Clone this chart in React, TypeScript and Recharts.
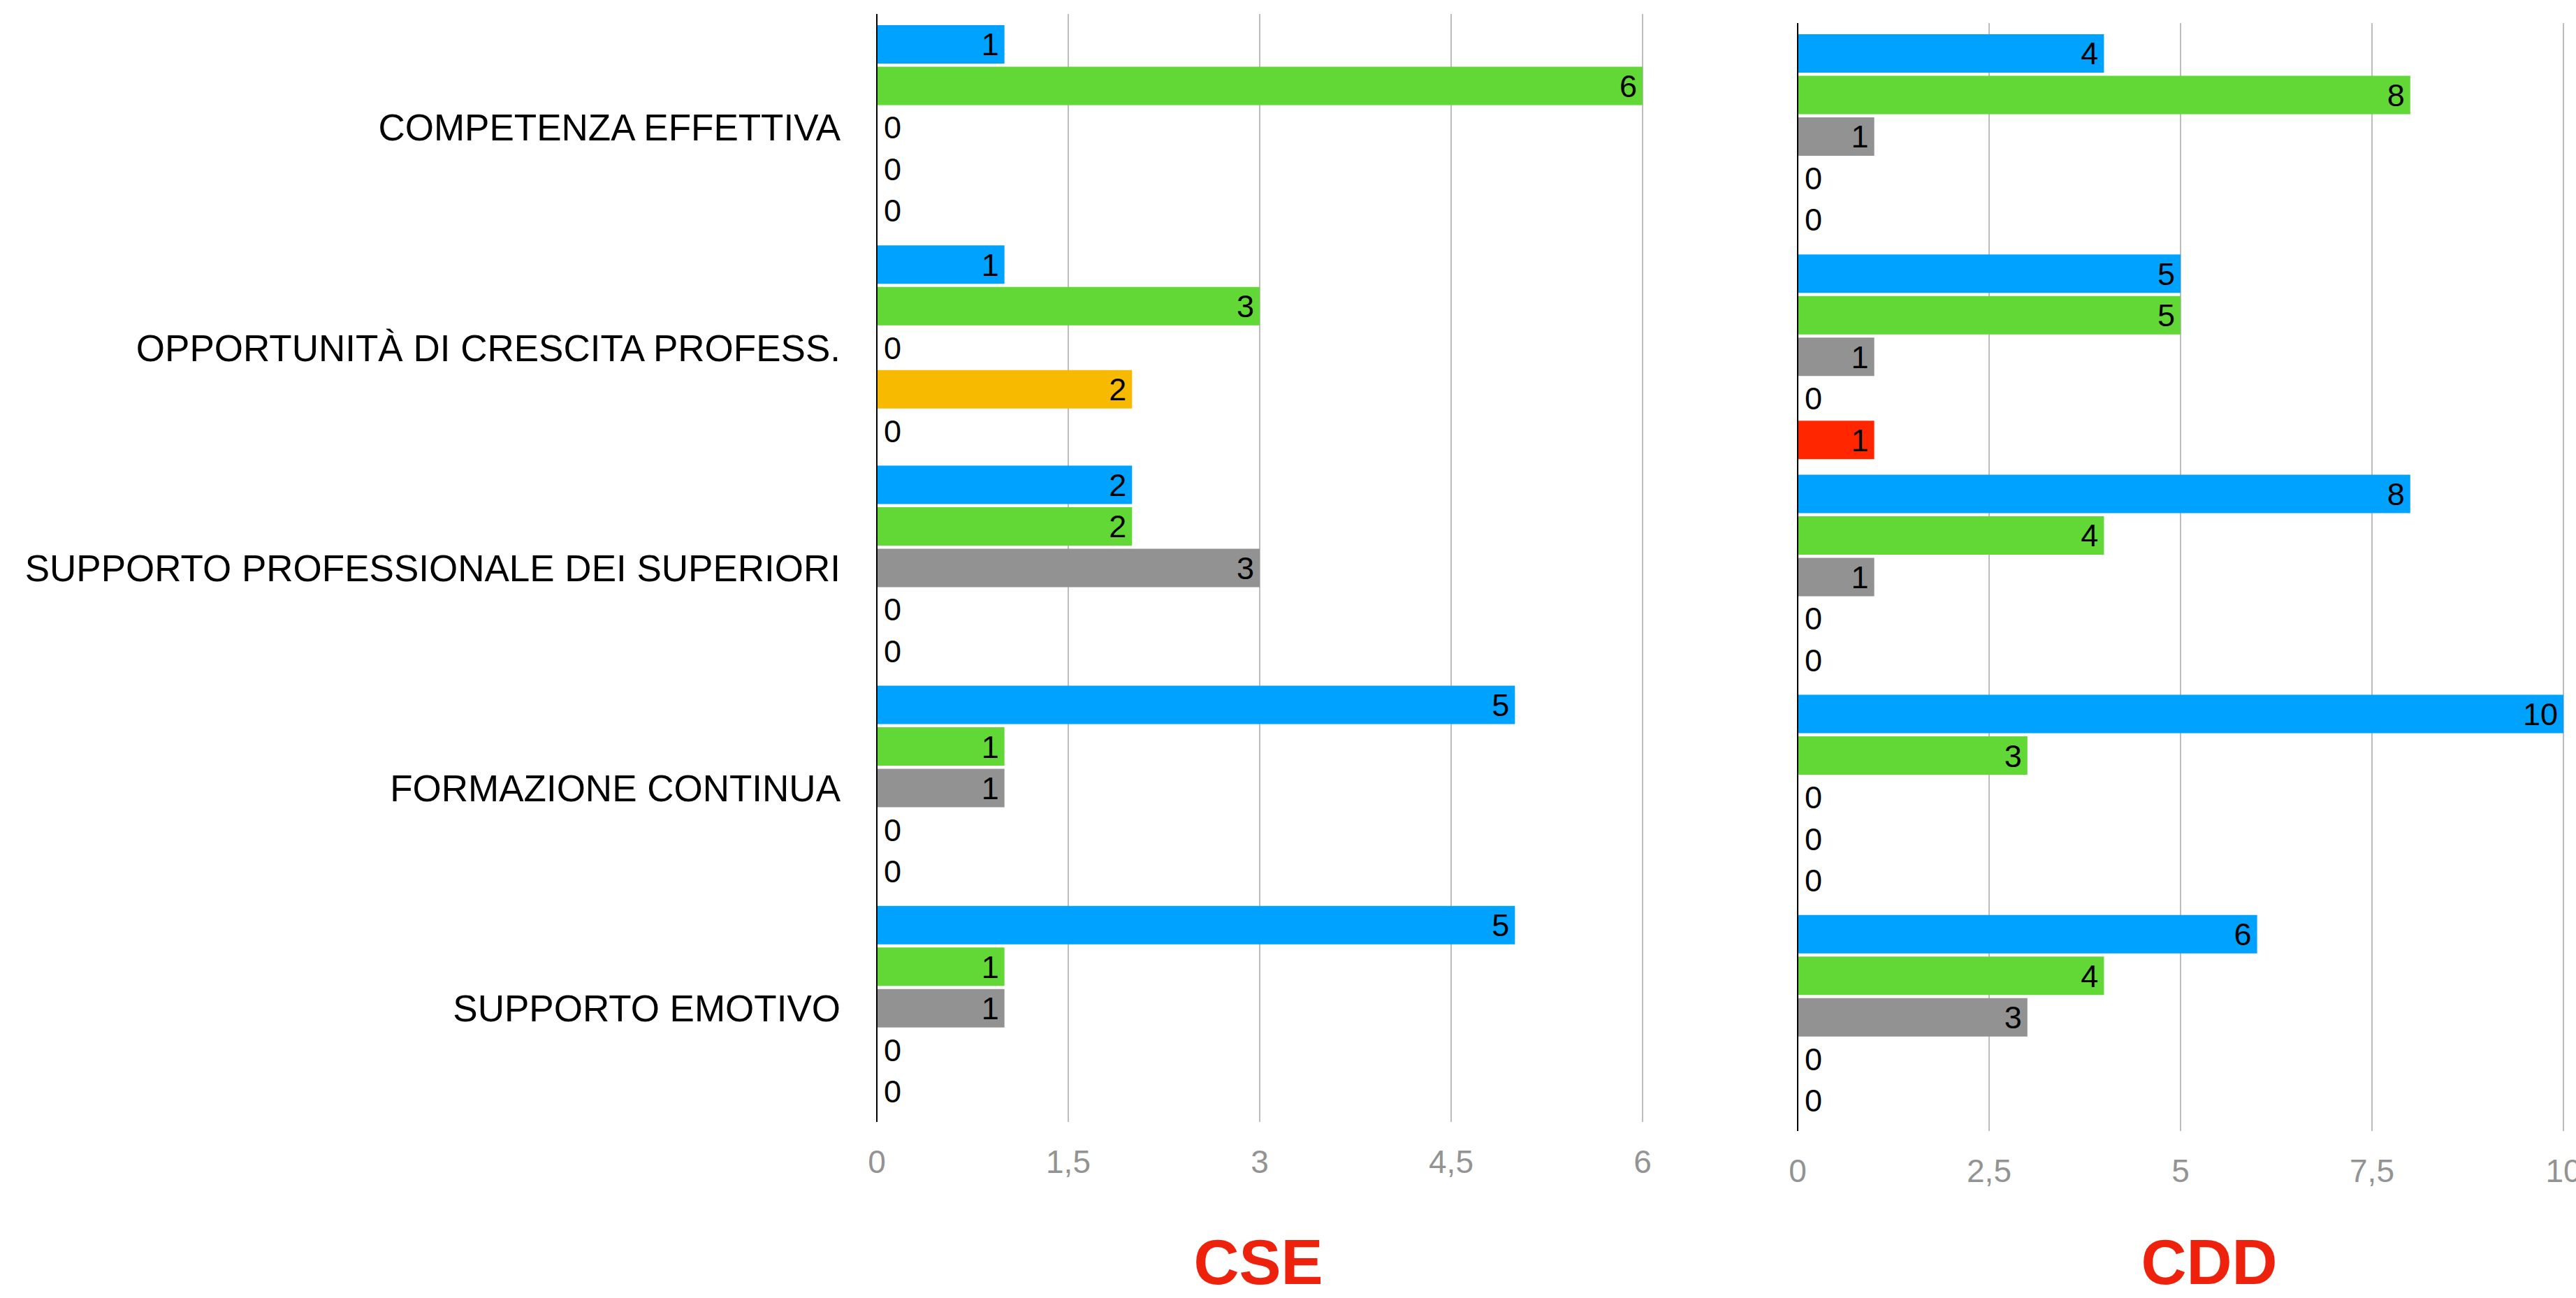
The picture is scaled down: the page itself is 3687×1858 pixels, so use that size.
import React from "react";
import { BarChart, Bar, XAxis, YAxis, CartesianGrid, LabelList } from "recharts";

const categories = [
  "COMPETENZA EFFETTIVA",
  "OPPORTUNITÀ DI CRESCITA PROFESS.",
  "SUPPORTO PROFESSIONALE DEI SUPERIORI",
  "FORMAZIONE CONTINUA",
  "SUPPORTO EMOTIVO",
];

// CSE
const cseBlue = [1, 1, 2, 5, 5];
const cseGreen = [6, 3, 2, 1, 1];
const cseGray = [0, 0, 3, 1, 1];
const cseYellow = [0, 2, 0, 0, 0];
const cseRed = [0, 0, 0, 0, 0];

// CDD
const cddBlue = [4, 5, 8, 10, 6];
const cddGreen = [8, 5, 4, 3, 4];
const cddGray = [1, 1, 1, 0, 3];
const cddYellow = [0, 0, 0, 0, 0];
const cddRed = [0, 1, 0, 0, 0];

const cseTicks = [0, 1.5, 3, 4.5, 6];
const cddTicks = [0, 2.5, 5, 7.5, 10];

const seriesKeys = ["blue", "green", "gray", "yellow", "red"];
const seriesColors = ["#00A2FF", "#61D836", "#929292", "#F8BA00", "#FF2600"];

const FONT = "'Liberation Sans', Arial, sans-serif";

const build = (cols: number[][]) =>
  categories.map((name, i) => {
    const row: any = { name };
    seriesKeys.forEach((k, j) => (row[k] = cols[j][i]));
    return row;
  });

const cseData = build([cseBlue, cseGreen, cseGray, cseYellow, cseRed]);
const cddData = build([cddBlue, cddGreen, cddGray, cddYellow, cddRed]);

const fmt = (v: number) => String(v).replace(".", ",");

// value at the bar end, or just right of the axis when it's 0
const ValueLabel = (props: any) => {
  const vb = props.viewBox && props.viewBox.width !== undefined ? props.viewBox : props;
  const { x, y, width, height } = vb;
  const value = props.value;
  const zero = !value;
  return (
    <text
      x={zero ? x + 10 : x + width - 8}
      y={y + height / 2}
      dy="0.355em"
      textAnchor={zero ? "start" : "end"}
      fontSize={45}
      fontFamily={FONT}
      fill="#000"
    >
      {value}
    </text>
  );
};

function Panel({ data, ticks, max, width, height, top, right, axisWidth, showNames }: any) {
  return (
    <BarChart
      layout="vertical"
      width={width}
      height={height}
      data={data}
      margin={{ top, right, bottom: 0, left: 0 }}
      barSize={55}
      barGap={4.5}
    >
      <CartesianGrid horizontal={false} stroke="#BDBDBD" strokeWidth={2} />
      <XAxis
        type="number"
        domain={[0, max]}
        ticks={ticks}
        tickFormatter={fmt}
        axisLine={false}
        tickLine={false}
        tickSize={0}
        tickMargin={40}
        height={100}
        tick={{ fill: "#939393", fontSize: 46, fontFamily: FONT }}
        interval={0}
      />
      {seriesKeys.map((k, j) => (
        <Bar key={k} dataKey={k} fill={seriesColors[j]} minPointSize={1} isAnimationActive={false}>
          <LabelList dataKey={k} content={ValueLabel} />
        </Bar>
      ))}
      <YAxis
        type="category"
        dataKey="name"
        width={axisWidth}
        padding={{ top: 5, bottom: 5 }}
        axisLine={{ stroke: "#000", strokeWidth: 2 }}
        tickLine={false}
        tickSize={0}
        tickMargin={52}
        tick={showNames ? { fill: "#000", fontSize: 53, fontFamily: FONT } : false}
        interval={0}
      />
    </BarChart>
  );
}

export default function App() {
  return (
    <div style={{ position: "absolute", left: 0, top: 0, width: 3687, height: 1858, background: "#fff", overflow: "hidden" }}>
      <div style={{ position: "absolute", left: 0, top: 0 }}>
        <Panel data={cseData} ticks={cseTicks} max={6} width={2391} height={1706} top={20} right={40} axisWidth={1255} showNames />
      </div>
      <div style={{ position: "absolute", left: 2473, top: 0 }}>
        <Panel data={cddData} ticks={cddTicks} max={10} width={1214} height={1719} top={33} right={18} axisWidth={100} showNames={false} />
      </div>
      <svg width={3687} height={1858} style={{ position: "absolute", left: 0, top: 0, pointerEvents: "none" }}>
        <text x={1801} y={1838} textAnchor="middle" fontSize={90} fontWeight="bold" fontFamily={FONT} fill="#EE220C">
          CSE
        </text>
        <text x={3162} y={1838} textAnchor="middle" fontSize={90} fontWeight="bold" fontFamily={FONT} fill="#EE220C">
          CDD
        </text>
      </svg>
    </div>
  );
}
